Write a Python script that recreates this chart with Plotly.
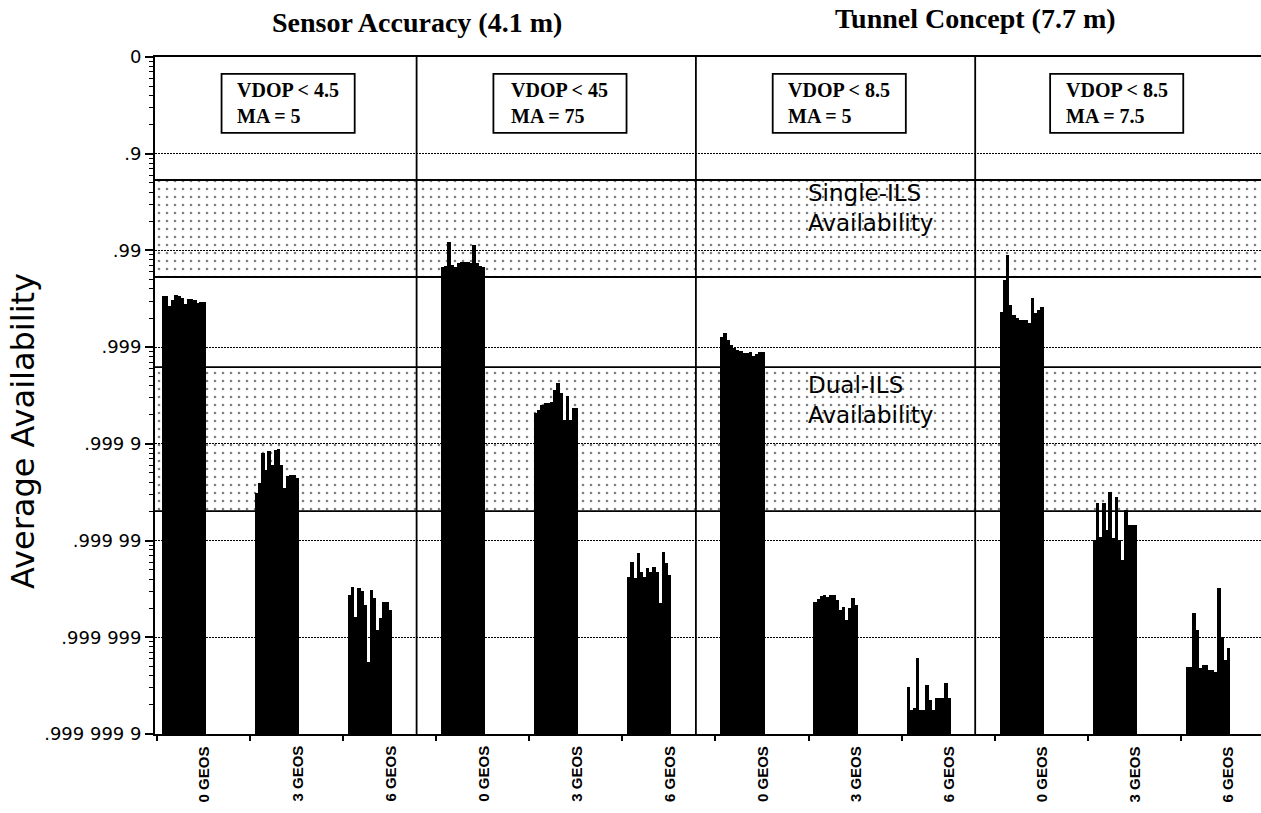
import plotly.graph_objects as go

# Unavailability (1 - availability) of each simulated run, grouped by
# configuration and number of GEO satellites.
# Sensor accuracy (4.1 m), VDOP < 4.5, MA = 5
sensor_ma5_geo0 = [3.38e-3, 3.38e-3, 2.66e-3, 3.07e-3, 3.46e-3, 3.38e-3, 3.22e-3,
                   2.80e-3, 3.14e-3, 3.14e-3, 3.07e-3, 2.86e-3, 2.93e-3, 2.93e-3]
sensor_ma5_geo3 = [3.10e-5, 3.94e-5, 8.04e-5, 5.36e-5, 8.43e-5, 6.04e-5, 8.63e-5,
                   8.84e-5, 6.04e-5, 3.49e-5, 4.65e-5, 4.76e-5, 4.76e-5, 4.43e-5]
sensor_ma5_geo6 = [2.73e-6, 3.30e-6, 1.62e-6, 3.23e-6, 3.01e-6, 2.15e-6, 5.54e-7,
                   3.07e-6, 2.54e-6, 1.19e-6, 1.58e-6, 2.31e-6, 2.31e-6, 1.91e-6]
# Sensor accuracy (4.1 m), VDOP < 4.5, MA = 7.5
sensor_ma75_geo0 = [6.74e-3, 6.90e-3, 1.22e-2, 7.06e-3, 6.74e-3, 7.41e-3, 7.59e-3,
                    7.59e-3, 7.59e-3, 7.41e-3, 1.14e-2, 7.41e-3, 6.90e-3, 6.74e-3]
sensor_ma75_geo3 = [2.08e-4, 2.24e-4, 2.52e-4, 2.64e-4, 2.64e-4, 2.71e-4, 3.60e-4,
                    4.26e-4, 3.35e-4, 1.76e-4, 3.12e-4, 1.76e-4, 2.35e-4, 2.35e-4]
sensor_ma75_geo6 = [4.19e-6, 5.99e-6, 4.09e-6, 7.43e-6, 4.72e-6, 4.19e-6, 5.20e-6,
                    4.72e-6, 5.32e-6, 4.72e-6, 2.26e-6, 7.60e-6, 5.85e-6, 4.40e-6]
# Tunnel concept (7.7 m), VDOP < 8.5, MA = 5
tunnel_ma5_geo0 = [1.27e-3, 1.40e-3, 1.18e-3, 1.05e-3, 9.79e-4, 9.34e-4, 9.12e-4,
                   8.69e-4, 8.69e-4, 8.90e-4, 8.09e-4, 8.49e-4, 8.90e-4, 8.90e-4]
tunnel_ma5_geo3 = [2.31e-6, 2.48e-6, 2.67e-6, 2.73e-6, 2.61e-6, 2.73e-6, 2.73e-6,
                   2.43e-6, 1.91e-6, 2.05e-6, 1.51e-6, 2.00e-6, 2.54e-6, 2.15e-6]
tunnel_ma5_geo6 = [3.05e-7, 1.77e-7, 1.85e-7, 6.10e-7, 1.77e-7, 1.77e-7, 3.21e-7,
                   2.24e-7, 1.77e-7, 2.35e-7, 2.35e-7, 2.35e-7, 3.36e-7, 2.35e-7]
# Tunnel concept (7.7 m), VDOP < 8.5, MA = 7.5
tunnel_ma75_geo0 = [2.31e-3, 4.94e-3, 8.96e-3, 2.72e-3, 2.15e-3, 2.00e-3, 1.91e-3,
                    1.91e-3, 1.91e-3, 1.78e-3, 3.22e-3, 2.25e-3, 2.42e-3, 2.60e-3]
tunnel_ma75_geo3 = [1.01e-5, 2.44e-5, 1.09e-5, 2.44e-5, 1.28e-5, 3.17e-5, 1.06e-5,
                    2.82e-5, 1.01e-5, 6.28e-6, 2.07e-5, 1.45e-5, 1.45e-5, 1.45e-5]
tunnel_ma75_geo6 = [4.92e-7, 4.92e-7, 1.78e-6, 1.19e-6, 4.80e-7, 5.16e-7, 5.16e-7,
                    4.58e-7, 4.58e-7, 4.36e-7, 3.23e-6, 1.00e-6, 5.81e-7, 7.73e-7]

groups = [sensor_ma5_geo0, sensor_ma5_geo3, sensor_ma5_geo6,
          sensor_ma75_geo0, sensor_ma75_geo3, sensor_ma75_geo6,
          tunnel_ma5_geo0, tunnel_ma5_geo3, tunnel_ma5_geo6,
          tunnel_ma75_geo0, tunnel_ma75_geo3, tunnel_ma75_geo6]
group_labels = ["0 GEOS", "3 GEOS", "6 GEOS"] * 4

# ILS availability bands, as unavailability (low, high)
single_ils = (5.31e-3, 5.35e-2)
dual_ils = (2.02e-5, 6.22e-4)

# Availability axis: unavailability decades labelled as availability
decades = [1, 1e-1, 1e-2, 1e-3, 1e-4, 1e-5, 1e-6, 1e-7]
decade_labels = ["0", ".9", ".99", ".999", ".999 9", ".999 99", ".999 999", ".999 999 9"]

box_texts = ["VDOP < 4.5<br>MA = 5", "VDOP < 45<br>MA = 75",
             "VDOP < 8.5<br>MA = 5", "VDOP < 8.5<br>MA = 7.5"]
box_centers = [1.41, 4.33, 7.33, 10.31]
headings = ["Sensor Accuracy (4.1 m)", "Tunnel Concept (7.7 m)"]

SANS = "DejaVu Sans"
SERIF = "Liberation Serif"

# each category slot holds its runs packed in the left half
BAR_START, BAR_SPAN = 0.054, 0.472

fig = go.Figure()

for lo, hi in (single_ils, dual_ils):
    fig.add_trace(go.Scatter(
        x=[-1, 13, 13, -1, -1], y=[lo, lo, hi, hi, lo],
        mode="lines", fill="toself", fillcolor="rgba(0,0,0,0)",
        fillpattern=dict(shape=".", size=8, solidity=0.085, fgcolor="black",
                         bgcolor="rgba(0,0,0,0)", fillmode="overlay"),
        line=dict(color="black", width=1.8),
        hoverinfo="skip", showlegend=False))

xs, ys = [], []
bar_w = None
for g, vals in enumerate(groups):
    bar_w = BAR_SPAN / len(vals)
    for k, v in enumerate(vals):
        xs.append(g + BAR_START + (k + 0.5) * bar_w)
        ys.append(v)

fig.add_trace(go.Bar(x=xs, y=ys, width=bar_w * 1.08,
                     marker=dict(color="black", line=dict(width=0)),
                     showlegend=False))

shapes = []
# separators between the four configurations
for p in range(1, 4):
    g_end = 3 * p - 1 + BAR_START + BAR_SPAN
    g_next = 3 * p + BAR_START
    sx = (g_end + g_next) / 2
    shapes.append(dict(type="line", xref="x", yref="paper", x0=sx, x1=sx, y0=0, y1=1,
                       line=dict(color="black", width=1.8), layer="above"))

annotations = []
box_half = 0.715
for cx, txt in zip(box_centers, box_texts):
    shapes.append(dict(type="rect", xref="x", yref="paper",
                       x0=cx - box_half, x1=cx + box_half, y0=0.888, y1=0.975,
                       line=dict(color="black", width=1.8), fillcolor="white", layer="above"))
    annotations.append(dict(x=cx, y=0.9315, xref="x", yref="paper", text=txt,
                            showarrow=False, align="left", xanchor="center", yanchor="middle",
                            font=dict(family=SERIF, size=20, color="black", weight="bold")))

sep_positions = [s["x0"] for s in shapes[:3]]
annotations.append(dict(x=sep_positions[0], y=1, xref="x", yref="paper", yshift=35,
                        text=headings[0], showarrow=False, yanchor="middle",
                        font=dict(family=SERIF, size=28, color="black", weight="bold")))
annotations.append(dict(x=sep_positions[2], y=1, xref="x", yref="paper", yshift=39,
                        text=headings[1], showarrow=False, yanchor="middle",
                        font=dict(family=SERIF, size=28, color="black", weight="bold")))

annotations.append(dict(x=6.97, y=-1.561, xref="x", yref="y", text="Single-ILS<br>Availability",
                        showarrow=False, align="left", xanchor="left", yanchor="middle",
                        font=dict(family=SANS, size=23, color="black")))
annotations.append(dict(x=6.97, y=-3.547, xref="x", yref="y", text="Dual-ILS<br>Availability",
                        showarrow=False, align="left", xanchor="left", yanchor="middle",
                        font=dict(family=SANS, size=23, color="black")))

annotations.append(dict(x=0, y=0.4476, xref="paper", yref="paper", xshift=-132,
                        text="Average Availability", textangle=-90, showarrow=False,
                        xanchor="center", yanchor="middle",
                        font=dict(family=SANS, size=32, color="black")))

# category labels under each group, reading upward
for g, lab in enumerate(group_labels):
    annotations.append(dict(x=g + 0.5, y=0, xref="x", yref="paper", yshift=-10,
                            text=lab, textangle=-90, showarrow=False,
                            xanchor="center", yanchor="top",
                            font=dict(family="Liberation Sans", size=15, color="black",
                                      weight="bold")))

minor_vals = [m * 10.0 ** e for e in range(-7, 0) for m in range(2, 10)]

fig.update_layout(
    width=1261, height=813,
    margin=dict(l=155, r=0, t=57, b=79, autoexpand=False),
    paper_bgcolor="white", plot_bgcolor="white",
    bargap=0, showlegend=False,
    shapes=shapes, annotations=annotations,
    xaxis=dict(range=[-0.02, 11.86], tickmode="array", automargin=False,
               tickvals=list(range(len(groups) + 1)), showticklabels=False,
               ticks="outside", ticklen=5, tickwidth=1.5, tickcolor="black",
               showline=True, mirror=True, linewidth=1.8, linecolor="black",
               showgrid=False, zeroline=False),
    yaxis=dict(type="log", range=[-7, 0], tickmode="array", automargin=False,
               tickvals=decades, ticktext=decade_labels,
               ticks="outside", ticklen=8, tickwidth=1.5, tickcolor="black",
               showline=True, linewidth=1.8, linecolor="black",
               showgrid=True, gridcolor="black", gridwidth=1.3, griddash="1.5px,1.5px",
               zeroline=False,
               tickfont=dict(family=SANS, size=18, color="black"),
               minor=dict(tickmode="array", tickvals=minor_vals, ticks="outside",
                          ticklen=4, tickwidth=1, tickcolor="black", showgrid=False)),
)

fig.write_html("out.html")
